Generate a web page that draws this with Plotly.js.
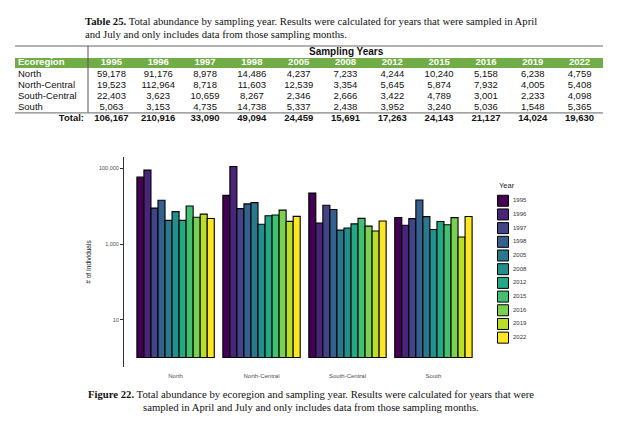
<!DOCTYPE html>
<html><head><meta charset="utf-8">
<script src="https://cdn.plot.ly/plotly-3.0.1.min.js"></script>
<style>html,body{margin:0;padding:0;background:#fff}#chart{width:624px;height:425px}</style>
</head><body><div id="chart"></div>
<script>
// ---- data ----
const regions = ['North', 'North-Central', 'South-Central', 'South'];
const years = ['1995', '1996', '1997', '1998', '2005', '2008', '2012', '2015', '2016', '2019', '2022'];
const north        = [59178, 91176, 8978, 14486, 4237, 7233, 4244, 10240, 5158, 6238, 4759];
const northCentral = [19523, 112964, 8718, 11603, 12539, 3354, 5645, 5874, 7932, 4005, 5408];
const southCentral = [22403, 3623, 10659, 8267, 2346, 2666, 3422, 4789, 3001, 2233, 4098];
const south        = [5063, 3153, 4735, 14738, 5337, 2438, 3952, 3240, 5036, 1548, 5365];
const yTickVals = [10, 1000, 100000];
const yTickText = ['10', '1,000', '100,000'];
const yearColors = ['#440154', '#482576', '#414487', '#35608D', '#2A788E', '#21908C',
                    '#22A884', '#43BF71', '#7AD151', '#BBDF27', '#FDE725'];
const headerLabel = 'Ecoregion';
const totalLabel = 'Total:';

// ---- helpers ----
const W = 624, H = 425;
const px = v => v / W;
const py = v => 1 - v / H;
const fmt = n => n.toLocaleString('en-US');
const series = [north, northCentral, southCentral, south];
const totals = years.map((_, i) => series.reduce((s, arr) => s + arr[i], 0));
const rowKeys = [headerLabel].concat(regions, [totalLabel]);

const ARIAL = 'Liberation Sans, Arial, sans-serif';
const TIMES = 'Liberation Serif, Times New Roman, serif';

const traces = [];

// bar traces, one per year
years.forEach((yr, i) => {
  traces.push({
    type: 'bar', name: yr,
    x: regions,
    y: series.map(arr => arr[i]),
    base: 1,
    marker: {color: yearColors[i], line: {color: '#000', width: 1.1}},
    xaxis: 'x', yaxis: 'y',
    showlegend: false,
    hovertemplate: '%{x} ' + yr + ': %{y:,}<extra></extra>'
  });
});

// legend key column: swatches and labels
traces.push({
  type: 'scatter', mode: 'markers',
  x: years.map(() => 0.5), y: years,
  marker: {symbol: 'square', size: 11, color: yearColors, line: {color: '#000', width: 1}},
  xaxis: 'x2', yaxis: 'y2', showlegend: false, hoverinfo: 'skip', cliponaxis: false
});
traces.push({
  type: 'scatter', mode: 'text',
  x: years.map(() => 1), y: years,
  text: years, textposition: 'middle right',
  textfont: {family: ARIAL, size: 6, color: '#333'},
  xaxis: 'x2', yaxis: 'y2', showlegend: false, hoverinfo: 'skip', cliponaxis: false
});

// ---- table as text on its own axes ----
traces.push({
  type: 'scatter', mode: 'text', x: years, y: years.map(() => headerLabel), text: years,
  textposition: 'middle center',
  textfont: {family: ARIAL, size: 9.5, color: '#fff', weight: 'bold'},
  xaxis: 'x3', yaxis: 'y3', showlegend: false, hoverinfo: 'skip', cliponaxis: false
});
const bx = [], by = [], bt = [];
series.forEach((arr, r) => arr.forEach((v, i) => { bx.push(years[i]); by.push(regions[r]); bt.push(fmt(v)); }));
traces.push({
  type: 'scatter', mode: 'text', x: bx, y: by, text: bt,
  textposition: 'middle center',
  textfont: {family: ARIAL, size: 9.5, color: '#111'},
  xaxis: 'x3', yaxis: 'y3', showlegend: false, hoverinfo: 'skip', cliponaxis: false
});
traces.push({
  type: 'scatter', mode: 'text', x: years, y: years.map(() => totalLabel), text: totals.map(fmt),
  textposition: 'middle center',
  textfont: {family: ARIAL, size: 9.5, color: '#111', weight: 'bold'},
  xaxis: 'x3', yaxis: 'y3', showlegend: false, hoverinfo: 'skip', cliponaxis: false
});
traces.push({
  type: 'scatter', mode: 'text', x: [headerLabel].concat(regions).map(() => 0),
  y: [headerLabel].concat(regions), text: [headerLabel].concat(regions),
  textposition: 'middle right',
  textfont: {family: ARIAL, size: 9.5, color: ['#fff', '#111', '#111', '#111', '#111'],
             weight: ['bold', 'normal', 'normal', 'normal', 'normal']},
  xaxis: 'x4', yaxis: 'y3', showlegend: false, hoverinfo: 'skip', cliponaxis: false
});
traces.push({
  type: 'scatter', mode: 'text', x: [1], y: [totalLabel], text: [totalLabel],
  textposition: 'middle left',
  textfont: {family: ARIAL, size: 9.5, color: '#111', weight: 'bold'},
  xaxis: 'x4', yaxis: 'y3', showlegend: false, hoverinfo: 'skip', cliponaxis: false
});

const hidden = {visible: false, fixedrange: true, showgrid: false, zeroline: false};

const layout = {
  width: W, height: H,
  margin: {l: 0, r: 0, t: 0, b: 0},
  paper_bgcolor: '#fff', plot_bgcolor: 'rgba(0,0,0,0)',
  showlegend: false,
  barmode: 'group', bargap: 0.1, bargroupgap: 0,
  xaxis: {
    domain: [px(124), px(485)], range: [-0.6, 3.6],
    showline: false, ticks: '', showgrid: false, zeroline: false,
    tickfont: {family: ARIAL, size: 6, color: '#4d4d4d'},
    ticklabelstandoff: 4,
    fixedrange: true
  },
  yaxis: {
    domain: [py(367), py(157)], type: 'log', range: [-0.253, 5.306],
    tickvals: yTickVals, ticktext: yTickText,
    ticks: 'outside', ticklen: 3, tickcolor: '#333', tickwidth: 1,
    showline: true, linecolor: '#333', linewidth: 1,
    showgrid: false, zeroline: false,
    tickfont: {family: ARIAL, size: 5.5, color: '#4d4d4d'},
    title: {text: '# of Individuals', font: {family: ARIAL, size: 6.5, color: '#222'}, standoff: 6},
    fixedrange: true
  },
  xaxis2: Object.assign({domain: [px(493), px(513)], range: [0, 1], anchor: 'y2'}, hidden),
  yaxis2: Object.assign({domain: [py(344.5), py(193.9)], type: 'category', categoryarray: years,
           range: [10.5, -0.5], anchor: 'x2'}, hidden),
  xaxis3: Object.assign({domain: [px(88), px(603)], type: 'category', categoryarray: years,
           range: [-0.5, 10.5], anchor: 'y3'}, hidden),
  xaxis4: Object.assign({domain: [px(18), px(84)], range: [0, 1], anchor: 'y3'}, hidden),
  yaxis3: Object.assign({domain: [py(124), py(57.5)], type: 'category', categoryarray: rowKeys,
           range: [5.5, -0.5], anchor: 'x3'}, hidden),
  shapes: [
    {type: 'rect', xref: 'paper', yref: 'y3', x0: px(15), x1: px(603), y0: -0.45, y1: 0.45,
     fillcolor: '#70AD47', line: {width: 0}, layer: 'below'},
    {type: 'line', xref: 'paper', yref: 'paper', x0: px(15), x1: px(603), y0: py(46), y1: py(46),
     line: {color: '#666', width: 1}},
    {type: 'line', xref: 'paper', yref: 'paper', x0: px(88), x1: px(88), y0: py(46), y1: py(112.5),
     line: {color: '#555', width: 1}},
    {type: 'line', xref: 'paper', yref: 'y3', x0: px(15), x1: px(603), y0: 4.5, y1: 4.5,
     line: {color: '#666', width: 1}}
  ],
  annotations: [
    {xref: 'paper', yref: 'paper', x: px(83), y: py(21), xanchor: 'left', yanchor: 'middle', showarrow: false,
     text: '<b>Table 25.</b> Total abundance by sampling year. Results were calculated for years that were sampled in April',
     font: {family: TIMES, size: 10.7, color: '#111'}},
    {xref: 'paper', yref: 'paper', x: px(83), y: py(34), xanchor: 'left', yanchor: 'middle', showarrow: false,
     text: 'and July and only includes data from those sampling months.',
     font: {family: TIMES, size: 10.7, color: '#111'}},
    {xref: 'paper', yref: 'paper', x: px(346), y: py(52), xanchor: 'center', yanchor: 'middle', showarrow: false,
     text: '<b>Sampling Years</b>', font: {family: ARIAL, size: 10, color: '#111'}},
    {xref: 'paper', yref: 'paper', x: px(497), y: py(185), xanchor: 'left', yanchor: 'middle', showarrow: false,
     text: 'Year', font: {family: ARIAL, size: 7.5, color: '#222'}},
    {xref: 'paper', yref: 'paper', x: px(311), y: py(394), xanchor: 'center', yanchor: 'middle', showarrow: false,
     text: '<b>Figure 22.</b> Total abundance by ecoregion and sampling year. Results were calculated for years that were',
     font: {family: TIMES, size: 10.7, color: '#111'}},
    {xref: 'paper', yref: 'paper', x: px(311), y: py(407), xanchor: 'center', yanchor: 'middle', showarrow: false,
     text: 'sampled in April and July and only includes data from those sampling months.',
     font: {family: TIMES, size: 10.7, color: '#111'}}
  ]
};

Plotly.newPlot('chart', traces, layout, {displayModeBar: false, staticPlot: true});
</script>
</body></html>
